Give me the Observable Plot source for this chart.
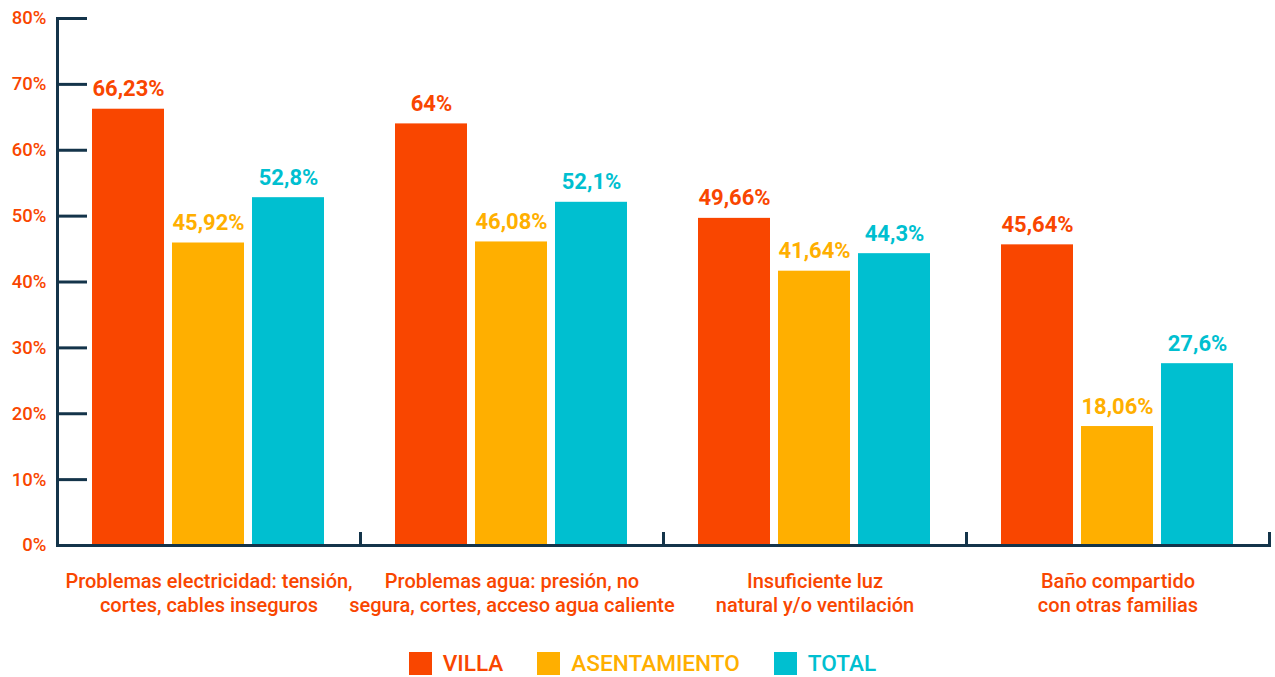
<!DOCTYPE html>
<html>
<head>
<meta charset="utf-8">
<script src="https://cdn.jsdelivr.net/npm/d3@7"></script>
<script src="https://cdn.jsdelivr.net/npm/@observablehq/plot@0.6"></script>
<style>
  html, body { margin: 0; padding: 0; background: #fff; }
  #chart svg { display: block; }
  #legend { display: flex; justify-content: center; align-items: flex-end; height: 27px; padding-left: 10px;
            font-family: Roboto, sans-serif; font-size: 22.6px; font-weight: 500; }
  .item { display: flex; align-items: center; margin: 0 17px; }
  .sw { width: 23px; height: 23px; margin-right: 11px; }
</style>
</head>
<body>
<div id="chart"></div>
<div id="legend"></div>
<script>
const categories = [
  "Problemas electricidad: tensión,\ncortes, cables inseguros",
  "Problemas agua: presión, no\nsegura, cortes, acceso agua caliente",
  "Insuficiente luz\nnatural y/o ventilación",
  "Baño compartido\ncon otras familias"
];
const series = ["VILLA", "ASENTAMIENTO", "TOTAL"];
const villa = [66.23, 64, 49.66, 45.64];
const asentamiento = [45.92, 46.08, 41.64, 18.06];
const total = [52.8, 52.1, 44.3, 27.6];
const colors = ["#F94600", "#FFAF00", "#00BFD0"];
const yTicks = [0, 10, 20, 30, 40, 50, 60, 70, 80];

const axisColor = "#14344A";
const labelColor = "#F94600";

const valuesBySeries = [villa, asentamiento, total];
const data = [];
categories.forEach((c, i) => {
  series.forEach((s, j) => data.push({category: c, series: s, value: valuesBySeries[j][i]}));
});
const fmt = v => String(v).replace(".", ",") + "%";

const W = 1275, H = 650, mTop = 18, mBottom = 105;
const plotH = H - mTop - mBottom;

const chart = Plot.plot({
  width: W,
  height: H,
  marginLeft: 56,
  marginRight: 5,
  marginTop: mTop,
  marginBottom: mBottom,
  style: {fontFamily: "Roboto, sans-serif", background: "#fff"},
  fx: {domain: categories, padding: 0, label: null},
  x: {domain: series, paddingInner: 0.099, paddingOuter: 0.423, axis: null},
  y: {domain: [0, 80], label: null},
  color: {domain: series, range: colors},
  marks: [
    Plot.barY(data, {fx: "category", x: "series", y: "value", fill: "series"}),
    Plot.text(data, {fx: "category", x: "series", y: "value", text: d => fmt(d.value), fill: "series",
      lineAnchor: "bottom", dy: -13, fontSize: 22, fontWeight: 700}),
    Plot.ruleY([0], {stroke: axisColor, strokeWidth: 3}),
    Plot.frame({anchor: "right", insetTop: plotH - 12, stroke: axisColor, strokeWidth: 3}),
    Plot.frame({anchor: "left", facetAnchor: "left", stroke: axisColor, strokeWidth: 3}),
    Plot.axisY({ticks: yTicks, tickSize: -30, fill: null, stroke: axisColor, strokeWidth: 3, label: null}),
    Plot.axisY({ticks: yTicks, tickSize: 0, tickPadding: 11, tickFormat: d => d + "%", fill: labelColor,
      stroke: null, fontSize: 18.5, fontWeight: 500, label: null}),
    Plot.axisFx({anchor: "bottom", tickSize: 0, tickPadding: 26, fontSize: 20, fontWeight: 500,
      fill: labelColor, lineHeight: 1.17, label: null, tickFormat: d => d})
  ]
});
document.getElementById("chart").appendChild(chart);

const legend = document.getElementById("legend");
series.forEach((s, i) => {
  const item = document.createElement("div");
  item.className = "item";
  const sw = document.createElement("div");
  sw.className = "sw";
  sw.style.background = colors[i];
  const t = document.createElement("span");
  t.textContent = s;
  t.style.color = colors[i];
  item.appendChild(sw);
  item.appendChild(t);
  legend.appendChild(item);
});
</script>
</body>
</html>
